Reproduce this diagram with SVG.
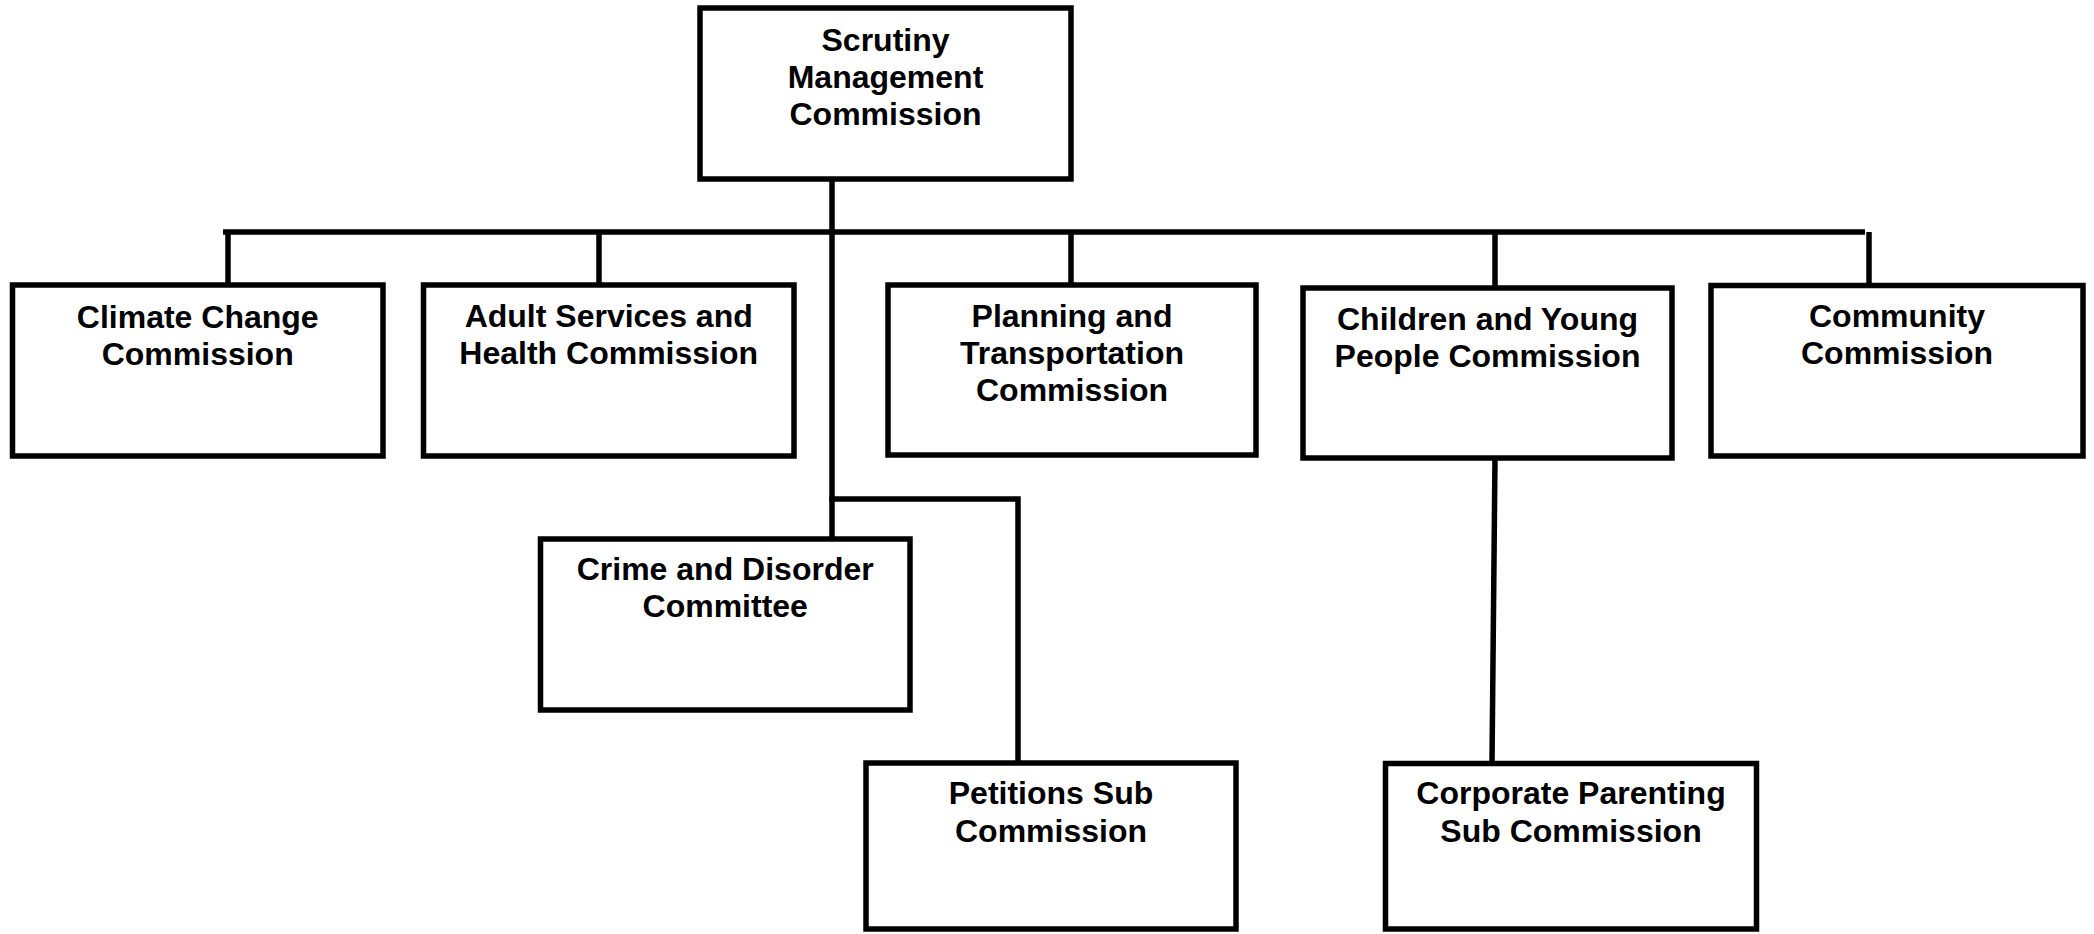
<svg xmlns="http://www.w3.org/2000/svg" width="2094" height="934" viewBox="0 0 2094 934">
<style>
.box{fill:#fff;stroke:#000;stroke-width:5.5}
.ln{fill:none;stroke:#000;stroke-width:5.5;stroke-linecap:butt;stroke-linejoin:miter}
text{font-family:"Liberation Sans",Arial,sans-serif;font-weight:bold;font-size:32px;fill:#000;text-anchor:middle}
</style>
<rect width="2094" height="934" fill="#fff"/>
<g id="connectors">
<path class="ln" d="M223,232 H1865"/>
<path class="ln" d="M228,232 V285"/>
<path class="ln" d="M599,232 V285"/>
<path class="ln" d="M1071,232 V285"/>
<path class="ln" d="M1495,232 V288"/>
<path class="ln" d="M1869,232 V285.5"/>
<path class="ln" d="M832,179 V539"/>
<path class="ln" d="M829.25,499 H1018 V763"/>
<path class="ln" d="M1495,458 L1492,763.5"/>
</g>
<g id="scrutiny">
<rect class="box" x="700" y="8" width="371" height="171"/>
<text x="885.5" y="50.5">Scrutiny</text>
<text x="885.5" y="87.5">Management</text>
<text x="885.5" y="124.5">Commission</text>
</g>
<g id="climate">
<rect class="box" x="12.5" y="285" width="370.5" height="171"/>
<text x="197.7" y="328">Climate Change</text>
<text x="197.7" y="365">Commission</text>
</g>
<g id="adult">
<rect class="box" x="423.5" y="285" width="370.5" height="171"/>
<text x="608.7" y="327">Adult Services and</text>
<text x="608.7" y="364">Health Commission</text>
</g>
<g id="planning">
<rect class="box" x="888" y="285" width="368" height="170"/>
<text x="1072" y="327">Planning and</text>
<text x="1072" y="364">Transportation</text>
<text x="1072" y="401">Commission</text>
</g>
<g id="children">
<rect class="box" x="1303" y="288" width="369" height="170"/>
<text x="1487.5" y="330">Children and Young</text>
<text x="1487.5" y="367">People Commission</text>
</g>
<g id="community">
<rect class="box" x="1711" y="285.5" width="372" height="170.5"/>
<text x="1897" y="327">Community</text>
<text x="1897" y="364">Commission</text>
</g>
<g id="crime">
<rect class="box" x="540.5" y="539" width="369.5" height="171"/>
<text x="725.2" y="580">Crime and Disorder</text>
<text x="725.2" y="617">Committee</text>
</g>
<g id="petitions">
<rect class="box" x="866" y="763" width="370" height="166"/>
<text x="1051" y="804">Petitions Sub</text>
<text x="1051" y="842">Commission</text>
</g>
<g id="corporate">
<rect class="box" x="1385.5" y="763.5" width="371" height="165.5"/>
<text x="1571" y="804">Corporate Parenting</text>
<text x="1571" y="842">Sub Commission</text>
</g>
</svg>
